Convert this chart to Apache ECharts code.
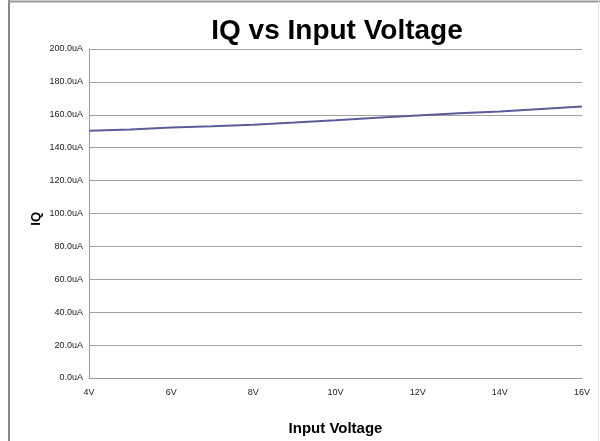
<!DOCTYPE html>
<html>
<head>
<meta charset="utf-8">
<script src="https://cdn.jsdelivr.net/npm/echarts@6/dist/echarts.min.js"></script>
<style>html,body{margin:0;padding:0;background:#fff;}#c{width:600px;height:441px;}</style>
</head>
<body>
<div id="c"></div>
<script>
var voltages = [4, 5, 6, 7, 8, 9, 10, 11, 12, 13, 14, 15, 16];
var iqValues = [150.3, 151.0, 152.3, 153.0, 154.0, 155.3, 156.7, 158.2, 159.6, 161.0, 162.0, 163.5, 165.0];
var xTicks = [4, 6, 8, 10, 12, 14, 16];
var titleText = 'IQ vs Input Voltage';
var xName = 'Input Voltage';
var yName = 'IQ';

var chart = echarts.init(document.getElementById('c'), null, {renderer: 'canvas'});
var data = voltages.map(function (v, i) { return [v, iqValues[i]]; });
chart.setOption({
  animation: false,
  backgroundColor: '#fff',
  graphic: [
    {type: 'line', shape: {x1: 9, y1: 0, x2: 9, y2: 441}, style: {stroke: '#888', lineWidth: 2}},
    {type: 'line', shape: {x1: 8, y1: 1.5, x2: 600, y2: 1.5}, style: {stroke: '#999', lineWidth: 2}},
    {type: 'line', shape: {x1: 598.5, y1: 1, x2: 598.5, y2: 441}, style: {stroke: '#e4e4e4', lineWidth: 1}},
    {type: 'text', left: 30, top: 212, rotation: Math.PI / 2, style: {text: yName, font: 'bold 13px "Liberation Sans", Arial, sans-serif', fill: '#000', textAlign: 'center', textVerticalAlign: 'middle'}}
  ],
  title: {
    text: titleText,
    left: 332, top: 12, textAlign: 'center',
    textStyle: {fontFamily: '"Liberation Sans", Arial, sans-serif', fontWeight: 'bold', fontSize: 28, color: '#000'}
  },
  grid: {left: 89, right: 18, top: 49, bottom: 62, containLabel: false},
  xAxis: {
    type: 'value', min: 4, max: 16, interval: 2,
    name: xName, nameLocation: 'middle', nameGap: 43,
    nameTextStyle: {fontFamily: '"Liberation Sans", Arial, sans-serif', fontWeight: 'bold', fontSize: 15, color: '#000'},
    axisLine: {show: true, lineStyle: {color: '#999', width: 1}},
    axisTick: {show: false},
    splitLine: {show: false},
    axisLabel: {margin: 10, fontFamily: '"Liberation Sans", Arial, sans-serif', fontSize: 9, color: '#222', formatter: function (v) { return xTicks.indexOf(v) >= 0 ? v + 'V' : ''; }}
  },
  yAxis: {
    type: 'value', min: 0, max: 200, interval: 20,
    axisLine: {show: true, lineStyle: {color: '#999', width: 1}},
    axisTick: {show: false},
    splitLine: {show: true, lineStyle: {color: '#a0a0a0', width: 1}},
    axisLabel: {margin: 6, fontFamily: '"Liberation Sans", Arial, sans-serif', fontSize: 9, color: '#222', formatter: function (v) { return v.toFixed(1) + 'uA'; }}
  },
  series: [{
    type: 'line', data: data, symbol: 'none', smooth: false,
    lineStyle: {color: '#5c5c99', width: 2}
  }]
});
</script>
</body>
</html>
